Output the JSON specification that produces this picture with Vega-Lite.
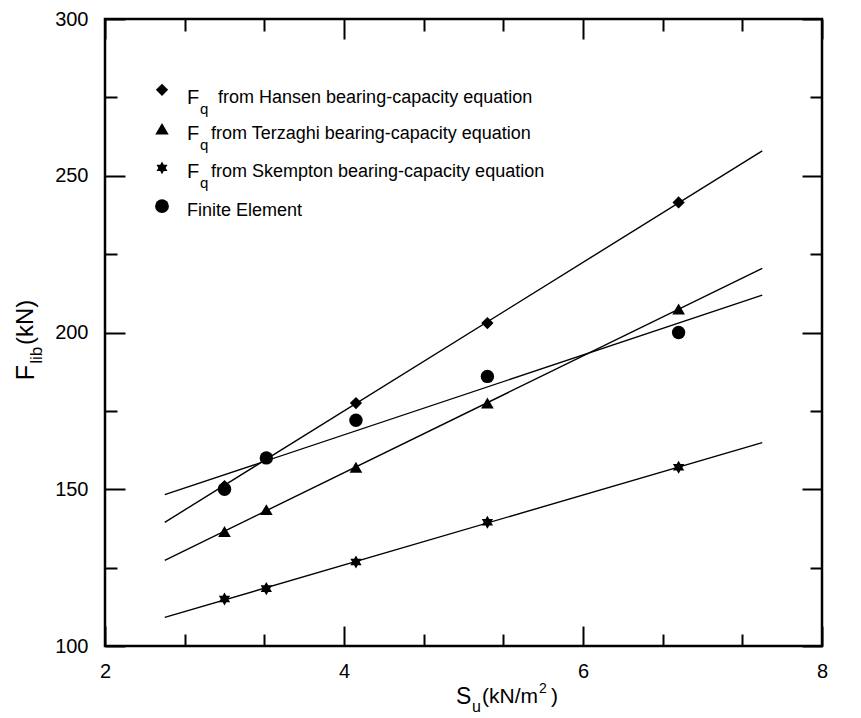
{
  "$schema": "https://vega.github.io/schema/vega-lite/v6.json",
  "width": 717,
  "height": 627,
  "autosize": {"type": "none"},
  "padding": {"left": 105, "top": 19, "right": 39, "bottom": 72},
  "background": "white",
  "config": {
    "view": {"stroke": "black", "strokeWidth": 2.5},
    "font": "Liberation Sans",
    "axis": {"domain": false, "grid": false, "tickColor": "black", "tickWidth": 2, "labelColor": "black", "labelFont": "Liberation Sans", "labelFontSize": 20}
  },
  "datasets": {
    "fq": [
      {"series": "Hansen", "x": 3.0, "y": 151.0},
      {"series": "Hansen", "x": 3.35, "y": 160.0},
      {"series": "Hansen", "x": 4.1, "y": 177.5},
      {"series": "Hansen", "x": 5.2, "y": 203.0},
      {"series": "Hansen", "x": 6.8, "y": 241.5},
      {"series": "Terzaghi", "x": 3.0, "y": 136.5},
      {"series": "Terzaghi", "x": 3.35, "y": 143.5},
      {"series": "Terzaghi", "x": 4.1, "y": 157.0},
      {"series": "Terzaghi", "x": 5.2, "y": 177.5},
      {"series": "Terzaghi", "x": 6.8, "y": 207.5},
      {"series": "Skempton", "x": 3.0, "y": 115.0},
      {"series": "Skempton", "x": 3.35, "y": 118.3},
      {"series": "Skempton", "x": 4.1, "y": 126.8},
      {"series": "Skempton", "x": 5.2, "y": 139.5},
      {"series": "Skempton", "x": 6.8, "y": 157.0},
      {"series": "Finite Element", "x": 3.0, "y": 150.0},
      {"series": "Finite Element", "x": 3.35, "y": 160.0},
      {"series": "Finite Element", "x": 4.1, "y": 172.0},
      {"series": "Finite Element", "x": 5.2, "y": 186.0},
      {"series": "Finite Element", "x": 6.8, "y": 200.0}
    ],
    "one": [{}]
  },
  "resolve": {"axis": {"x": "independent", "y": "independent"}},
  "layer": [
    {
      "data": {"name": "fq"},
      "transform": [{"regression": "y", "on": "x", "groupby": ["series"], "extent": [2.5, 7.5]}],
      "mark": {"type": "line", "color": "black", "strokeWidth": 1.4},
      "encoding": {
        "x": {"field": "x", "type": "quantitative", "scale": {"domain": [2, 8], "nice": false, "zero": false}, "axis": null},
        "y": {"field": "y", "type": "quantitative", "scale": {"domain": [100, 300], "nice": false, "zero": false}, "axis": null},
        "detail": {"field": "series"}
      }
    },
    {
      "data": {"name": "fq"},
      "mark": {"type": "point", "filled": true, "color": "black", "opacity": 1},
      "encoding": {
        "x": {"field": "x", "type": "quantitative", "axis": {
          "orient": "bottom", "title": null,
          "values": [2, 2.6667, 3.3333, 4, 4.6667, 5.3333, 6, 6.6667, 7.3333, 8],
          "tickSize": {"condition": {"test": "abs(datum.value - round(datum.value)) < 0.01", "value": -20}, "value": -12},
          "labelExpr": "abs(datum.value - round(datum.value)) < 0.01 ? format(datum.value, 'd') : ''",
          "labelPadding": 35, "labelBaseline": "top", "labelFontSize": 20, "labelFlush": false, "labelOverlap": false
        }},
        "y": {"field": "y", "type": "quantitative", "axis": {
          "orient": "left", "title": null,
          "values": [100, 125, 150, 175, 200, 225, 250, 275, 300],
          "tickSize": {"condition": {"test": "datum.value % 50 === 0", "value": -20}, "value": -12},
          "labelExpr": "datum.value % 50 === 0 ? format(datum.value, 'd') : ''",
          "labelPadding": 37, "labelFontSize": 20, "labelFlush": false, "labelOverlap": false
        }},
        "shape": {"field": "series", "type": "nominal", "legend": null, "scale": {
          "domain": ["Hansen", "Terzaghi", "Skempton", "Finite Element"],
          "range": ["diamond", "triangle-up", "M0,-1L0.2887,-0.5L0.866,-0.5L0.5774,0L0.866,0.5L0.2887,0.5L0,1L-0.2887,0.5L-0.866,0.5L-0.5774,0L-0.866,-0.5L-0.2887,-0.5Z", "circle"]
        }},
        "size": {"field": "series", "type": "nominal", "legend": null, "scale": {
          "domain": ["Hansen", "Terzaghi", "Skempton", "Finite Element"],
          "range": [150, 180, 160, 190]
        }}
      }
    },
    {
      "data": {"name": "fq"},
      "mark": {"type": "point", "opacity": 0},
      "encoding": {
        "x": {"field": "x", "type": "quantitative", "axis": {
          "orient": "top", "title": null, "labels": false,
          "values": [2, 2.6667, 3.3333, 4, 4.6667, 5.3333, 6, 6.6667, 7.3333, 8],
          "tickSize": {"condition": {"test": "abs(datum.value - round(datum.value)) < 0.01", "value": -20}, "value": -12}
        }},
        "y": {"field": "y", "type": "quantitative", "axis": {
          "orient": "right", "title": null, "labels": false,
          "values": [100, 125, 150, 175, 200, 225, 250, 275, 300],
          "tickSize": {"condition": {"test": "datum.value % 50 === 0", "value": -20}, "value": -12}
        }}
      }
    },
    {
      "data": {"name": "one"},
      "layer": [
        {"mark": {"type": "point", "shape": "diamond", "filled": true, "color": "black", "opacity": 1, "size": 150},
         "encoding": {"x": {"datum": 2.477, "axis": null}, "y": {"datum": 277.4, "axis": null}}},
        {"mark": {"type": "point", "shape": "triangle-up", "filled": true, "color": "black", "opacity": 1, "size": 180},
         "encoding": {"x": {"datum": 2.477, "axis": null}, "y": {"datum": 265.0, "axis": null}}},
        {"mark": {"type": "point", "shape": "M0,-1L0.2887,-0.5L0.866,-0.5L0.5774,0L0.866,0.5L0.2887,0.5L0,1L-0.2887,0.5L-0.866,0.5L-0.5774,0L-0.866,-0.5L-0.2887,-0.5Z", "filled": true, "color": "black", "opacity": 1, "size": 160},
         "encoding": {"x": {"datum": 2.477, "axis": null}, "y": {"datum": 252.5, "axis": null}}},
        {"mark": {"type": "point", "shape": "circle", "filled": true, "color": "black", "opacity": 1, "size": 190},
         "encoding": {"x": {"datum": 2.477, "axis": null}, "y": {"datum": 240.3, "axis": null}}},

        {"mark": {"type": "text", "text": "F", "align": "left", "baseline": "middle", "fontSize": 20, "color": "black"},
         "encoding": {"x": {"datum": 2.686, "axis": null}, "y": {"datum": 274.8, "axis": null}}},
        {"mark": {"type": "text", "text": "q", "align": "left", "baseline": "middle", "fontSize": 15, "color": "black"},
         "encoding": {"x": {"datum": 2.795, "axis": null}, "y": {"datum": 271.4, "axis": null}}},
        {"mark": {"type": "text", "text": "from Hansen bearing-capacity equation", "align": "left", "baseline": "middle", "fontSize": 18, "color": "black"},
         "encoding": {"x": {"datum": 2.946, "axis": null}, "y": {"datum": 274.8, "axis": null}}},

        {"mark": {"type": "text", "text": "F", "align": "left", "baseline": "middle", "fontSize": 20, "color": "black"},
         "encoding": {"x": {"datum": 2.686, "axis": null}, "y": {"datum": 263.3, "axis": null}}},
        {"mark": {"type": "text", "text": "q", "align": "left", "baseline": "middle", "fontSize": 15, "color": "black"},
         "encoding": {"x": {"datum": 2.795, "axis": null}, "y": {"datum": 259.9, "axis": null}}},
        {"mark": {"type": "text", "text": "from Terzaghi bearing-capacity equation", "align": "left", "baseline": "middle", "fontSize": 18, "color": "black"},
         "encoding": {"x": {"datum": 2.887, "axis": null}, "y": {"datum": 263.3, "axis": null}}},

        {"mark": {"type": "text", "text": "F", "align": "left", "baseline": "middle", "fontSize": 20, "color": "black"},
         "encoding": {"x": {"datum": 2.686, "axis": null}, "y": {"datum": 251.2, "axis": null}}},
        {"mark": {"type": "text", "text": "q", "align": "left", "baseline": "middle", "fontSize": 15, "color": "black"},
         "encoding": {"x": {"datum": 2.795, "axis": null}, "y": {"datum": 247.8, "axis": null}}},
        {"mark": {"type": "text", "text": "from Skempton bearing-capacity equation", "align": "left", "baseline": "middle", "fontSize": 18, "color": "black"},
         "encoding": {"x": {"datum": 2.887, "axis": null}, "y": {"datum": 251.2, "axis": null}}},

        {"mark": {"type": "text", "text": "Finite Element", "align": "left", "baseline": "middle", "fontSize": 18, "color": "black"},
         "encoding": {"x": {"datum": 2.686, "axis": null}, "y": {"datum": 238.9, "axis": null}}},

        {"mark": {"type": "text", "text": "S", "align": "left", "baseline": "middle", "fontSize": 23, "color": "black"},
         "encoding": {"x": {"datum": 4.937, "axis": null}, "y": {"datum": 83.7, "axis": null}}},
        {"mark": {"type": "text", "text": "u", "align": "left", "baseline": "middle", "fontSize": 16, "color": "black"},
         "encoding": {"x": {"datum": 5.071, "axis": null}, "y": {"datum": 80.6, "axis": null}}},
        {"mark": {"type": "text", "text": "(kN/m", "align": "left", "baseline": "middle", "fontSize": 21, "color": "black"},
         "encoding": {"x": {"datum": 5.155, "axis": null}, "y": {"datum": 83.7, "axis": null}}},
        {"mark": {"type": "text", "text": "2", "align": "left", "baseline": "middle", "fontSize": 14, "color": "black"},
         "encoding": {"x": {"datum": 5.632, "axis": null}, "y": {"datum": 86.3, "axis": null}}},
        {"mark": {"type": "text", "text": ")", "align": "left", "baseline": "middle", "fontSize": 21, "color": "black"},
         "encoding": {"x": {"datum": 5.732, "axis": null}, "y": {"datum": 83.7, "axis": null}}},

        {"mark": {"type": "text", "text": "F", "align": "left", "baseline": "middle", "angle": 270, "fontSize": 25, "color": "black"},
         "encoding": {"x": {"datum": 1.335, "axis": null}, "y": {"datum": 184.8, "axis": null}}},
        {"mark": {"type": "text", "text": "lib", "align": "left", "baseline": "middle", "angle": 270, "fontSize": 17, "color": "black"},
         "encoding": {"x": {"datum": 1.43, "axis": null}, "y": {"datum": 190.0, "axis": null}}},
        {"mark": {"type": "text", "text": "(kN)", "align": "left", "baseline": "middle", "angle": 270, "fontSize": 24, "color": "black"},
         "encoding": {"x": {"datum": 1.335, "axis": null}, "y": {"datum": 196.0, "axis": null}}}
      ]
    }
  ]
}
